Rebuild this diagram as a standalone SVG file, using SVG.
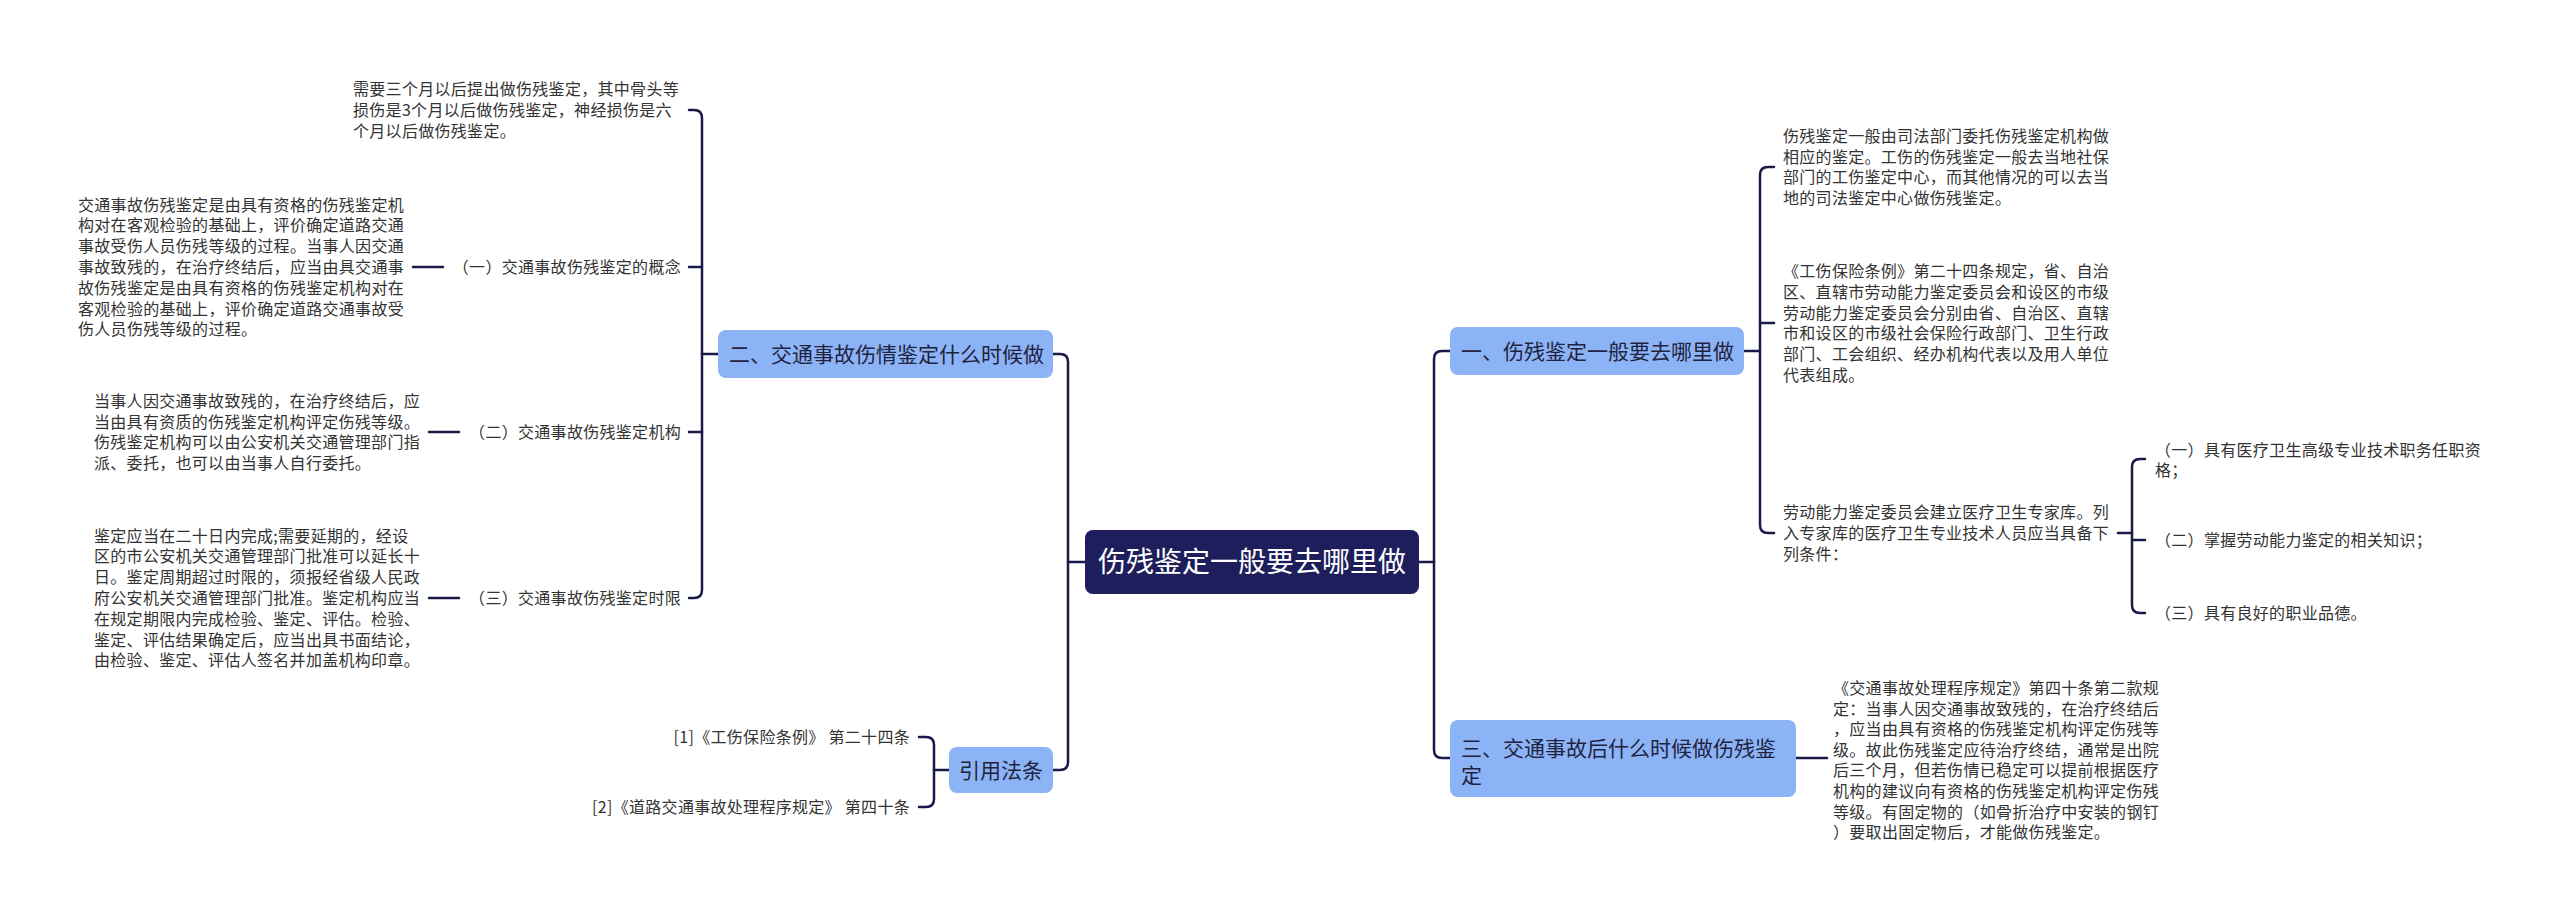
<svg xmlns="http://www.w3.org/2000/svg" width="2560" height="921" viewBox="0 0 2560 921">
<defs>
<style>
.bg{fill:#ffffff}
.t{font-family:"Noto Sans CJK SC","Noto Sans",sans-serif;font-size:16px;fill:#333333;letter-spacing:0.3px}
.n{font-family:"Noto Sans CJK SC","Noto Sans",sans-serif;font-size:21px;fill:#1f2340}
.c{font-family:"Noto Sans CJK SC","Noto Sans",sans-serif;font-size:28px;fill:#ffffff}
.box{fill:#8cb3f6}
.root{fill:#1e1e5c}
.ln{fill:none;stroke:#1a1a4a;stroke-width:2.5;stroke-linecap:round;stroke-linejoin:round}
</style>
</defs>
<rect class="bg" x="0" y="0" width="2560" height="921"/>

<g id="connectors">
  <!-- root left -->
  <path class="ln" d="M1085,562 H1068"/>
  <path class="ln" d="M1053,354 H1060 Q1068,354 1068,362 V762 Q1068,770 1060,770 H1053"/>
  <!-- root right -->
  <path class="ln" d="M1419,562 H1434"/>
  <path class="ln" d="M1450,351 H1442 Q1434,351 1434,359 V750 Q1434,758 1442,758 H1450"/>
  <!-- node 二 bracket -->
  <path class="ln" d="M718,354 H702"/>
  <path class="ln" d="M689,110 H694 Q702,110 702,118 V590 Q702,598 694,598 H689"/>
  <path class="ln" d="M689,267 H702"/>
  <path class="ln" d="M689,432 H702"/>
  <path class="ln" d="M413,267 H443"/>
  <path class="ln" d="M429,432 H459"/>
  <path class="ln" d="M429,598 H459"/>
  <!-- 引用法条 bracket -->
  <path class="ln" d="M949,770 H934"/>
  <path class="ln" d="M919,737 H926 Q934,737 934,745 V799 Q934,807 926,807 H919"/>
  <!-- node 一 bracket -->
  <path class="ln" d="M1744,351 H1760"/>
  <path class="ln" d="M1774,167 H1768 Q1760,167 1760,175 V525 Q1760,533 1768,533 H1774"/>
  <path class="ln" d="M1760,323 H1774"/>
  <!-- C children -->
  <path class="ln" d="M2118,533 H2132"/>
  <path class="ln" d="M2145,459 H2140 Q2132,459 2132,467 V605 Q2132,613 2140,613 H2145"/>
  <path class="ln" d="M2132,540 H2145"/>
  <!-- node 三 -->
  <path class="ln" d="M1796,758 H1827"/>
</g>

<g id="root">
  <rect class="root" x="1085" y="530" width="334" height="64" rx="8"/>
  <text class="c" x="1252" y="572" text-anchor="middle">伤残鉴定一般要去哪里做</text>
</g>

<g id="node-er">
  <rect class="box" x="718" y="330" width="335" height="48" rx="8"/>
  <text class="n" x="729" y="361.5">二、交通事故伤情鉴定什么时候做</text>
</g>

<g id="node-er-t1">
  <text class="t" x="353">
    <tspan x="353" y="95">需要三个月以后提出做伤残鉴定，其中骨头等</tspan>
    <tspan x="353" y="116">损伤是3个月以后做伤残鉴定，神经损伤是六</tspan>
    <tspan x="353" y="137">个月以后做伤残鉴定。</tspan>
  </text>
</g>

<g id="node-er-1">
  <text class="t" x="681" y="273" text-anchor="end">（一）交通事故伤残鉴定的概念</text>
</g>
<g id="node-er-1-p">
  <text class="t">
    <tspan x="78" y="210.6">交通事故伤残鉴定是由具有资格的伤残鉴定机</tspan>
    <tspan x="78" y="231.4">构对在客观检验的基础上，评价确定道路交通</tspan>
    <tspan x="78" y="252.2">事故受伤人员伤残等级的过程。当事人因交通</tspan>
    <tspan x="78" y="273">事故致残的，在治疗终结后，应当由具交通事</tspan>
    <tspan x="78" y="293.8">故伤残鉴定是由具有资格的伤残鉴定机构对在</tspan>
    <tspan x="78" y="314.6">客观检验的基础上，评价确定道路交通事故受</tspan>
    <tspan x="78" y="335.4">伤人员伤残等级的过程。</tspan>
  </text>
</g>

<g id="node-er-2">
  <text class="t" x="681" y="438" text-anchor="end">（二）交通事故伤残鉴定机构</text>
</g>
<g id="node-er-2-p">
  <text class="t">
    <tspan x="94" y="406.8">当事人因交通事故致残的，在治疗终结后，应</tspan>
    <tspan x="94" y="427.6">当由具有资质的伤残鉴定机构评定伤残等级。</tspan>
    <tspan x="94" y="448.4">伤残鉴定机构可以由公安机关交通管理部门指</tspan>
    <tspan x="94" y="469.2">派、委托，也可以由当事人自行委托。</tspan>
  </text>
</g>

<g id="node-er-3">
  <text class="t" x="681" y="604" text-anchor="end">（三）交通事故伤残鉴定时限</text>
</g>
<g id="node-er-3-p">
  <text class="t">
    <tspan x="94" y="541.6">鉴定应当在二十日内完成;需要延期的，经设</tspan>
    <tspan x="94" y="562.4">区的市公安机关交通管理部门批准可以延长十</tspan>
    <tspan x="94" y="583.2">日。鉴定周期超过时限的，须报经省级人民政</tspan>
    <tspan x="94" y="604">府公安机关交通管理部门批准。鉴定机构应当</tspan>
    <tspan x="94" y="624.8">在规定期限内完成检验、鉴定、评估。检验、</tspan>
    <tspan x="94" y="645.6">鉴定、评估结果确定后，应当出具书面结论，</tspan>
    <tspan x="94" y="666.4">由检验、鉴定、评估人签名并加盖机构印章。</tspan>
  </text>
</g>

<g id="node-yinyong">
  <rect class="box" x="949" y="747" width="104" height="46" rx="8"/>
  <text class="n" x="1001" y="777.5" text-anchor="middle">引用法条</text>
</g>
<g id="node-ref1">
  <text class="t" x="910" y="743" text-anchor="end">[1]《工伤保险条例》 第二十四条</text>
</g>
<g id="node-ref2">
  <text class="t" x="910" y="813" text-anchor="end">[2]《道路交通事故处理程序规定》 第四十条</text>
</g>

<g id="node-yi">
  <rect class="box" x="1450" y="327" width="294" height="48" rx="8"/>
  <text class="n" x="1461" y="358.5">一、伤残鉴定一般要去哪里做</text>
</g>
<g id="node-yi-a">
  <text class="t">
    <tspan x="1783" y="141.8">伤残鉴定一般由司法部门委托伤残鉴定机构做</tspan>
    <tspan x="1783" y="162.6">相应的鉴定。工伤的伤残鉴定一般去当地社保</tspan>
    <tspan x="1783" y="183.4">部门的工伤鉴定中心，而其他情况的可以去当</tspan>
    <tspan x="1783" y="204.2">地的司法鉴定中心做伤残鉴定。</tspan>
  </text>
</g>
<g id="node-yi-b">
  <text class="t">
    <tspan x="1783" y="277">《工伤保险条例》第二十四条规定，省、自治</tspan>
    <tspan x="1783" y="297.8">区、直辖市劳动能力鉴定委员会和设区的市级</tspan>
    <tspan x="1783" y="318.6">劳动能力鉴定委员会分别由省、自治区、直辖</tspan>
    <tspan x="1783" y="339.4">市和设区的市级社会保险行政部门、卫生行政</tspan>
    <tspan x="1783" y="360.2">部门、工会组织、经办机构代表以及用人单位</tspan>
    <tspan x="1783" y="381">代表组成。</tspan>
  </text>
</g>
<g id="node-yi-c">
  <text class="t">
    <tspan x="1783" y="518.2">劳动能力鉴定委员会建立医疗卫生专家库。列</tspan>
    <tspan x="1783" y="539">入专家库的医疗卫生专业技术人员应当具备下</tspan>
    <tspan x="1783" y="559.8">列条件：</tspan>
  </text>
</g>
<g id="node-yi-c1">
  <text class="t">
    <tspan x="2155" y="456">（一）具有医疗卫生高级专业技术职务任职资</tspan>
    <tspan x="2155" y="476">格；</tspan>
  </text>
</g>
<g id="node-yi-c2">
  <text class="t" x="2155" y="546">（二）掌握劳动能力鉴定的相关知识；</text>
</g>
<g id="node-yi-c3">
  <text class="t" x="2155" y="619">（三）具有良好的职业品德。</text>
</g>

<g id="node-san">
  <rect class="box" x="1450" y="720" width="346" height="77" rx="8"/>
  <text class="n">
    <tspan x="1461" y="755.5">三、交通事故后什么时候做伤残鉴</tspan>
    <tspan x="1461" y="782.5">定</tspan>
  </text>
</g>
<g id="node-san-a">
  <text class="t">
    <tspan x="1833" y="694">《交通事故处理程序规定》第四十条第二款规</tspan>
    <tspan x="1833" y="714.6">定：当事人因交通事故致残的，在治疗终结后</tspan>
    <tspan x="1833" y="735.2">，应当由具有资格的伤残鉴定机构评定伤残等</tspan>
    <tspan x="1833" y="755.8">级。故此伤残鉴定应待治疗终结，通常是出院</tspan>
    <tspan x="1833" y="776.4">后三个月，但若伤情已稳定可以提前根据医疗</tspan>
    <tspan x="1833" y="797">机构的建议向有资格的伤残鉴定机构评定伤残</tspan>
    <tspan x="1833" y="817.6">等级。有固定物的（如骨折治疗中安装的钢钉</tspan>
    <tspan x="1833" y="838.2">）要取出固定物后，才能做伤残鉴定。</tspan>
  </text>
</g>
</svg>
